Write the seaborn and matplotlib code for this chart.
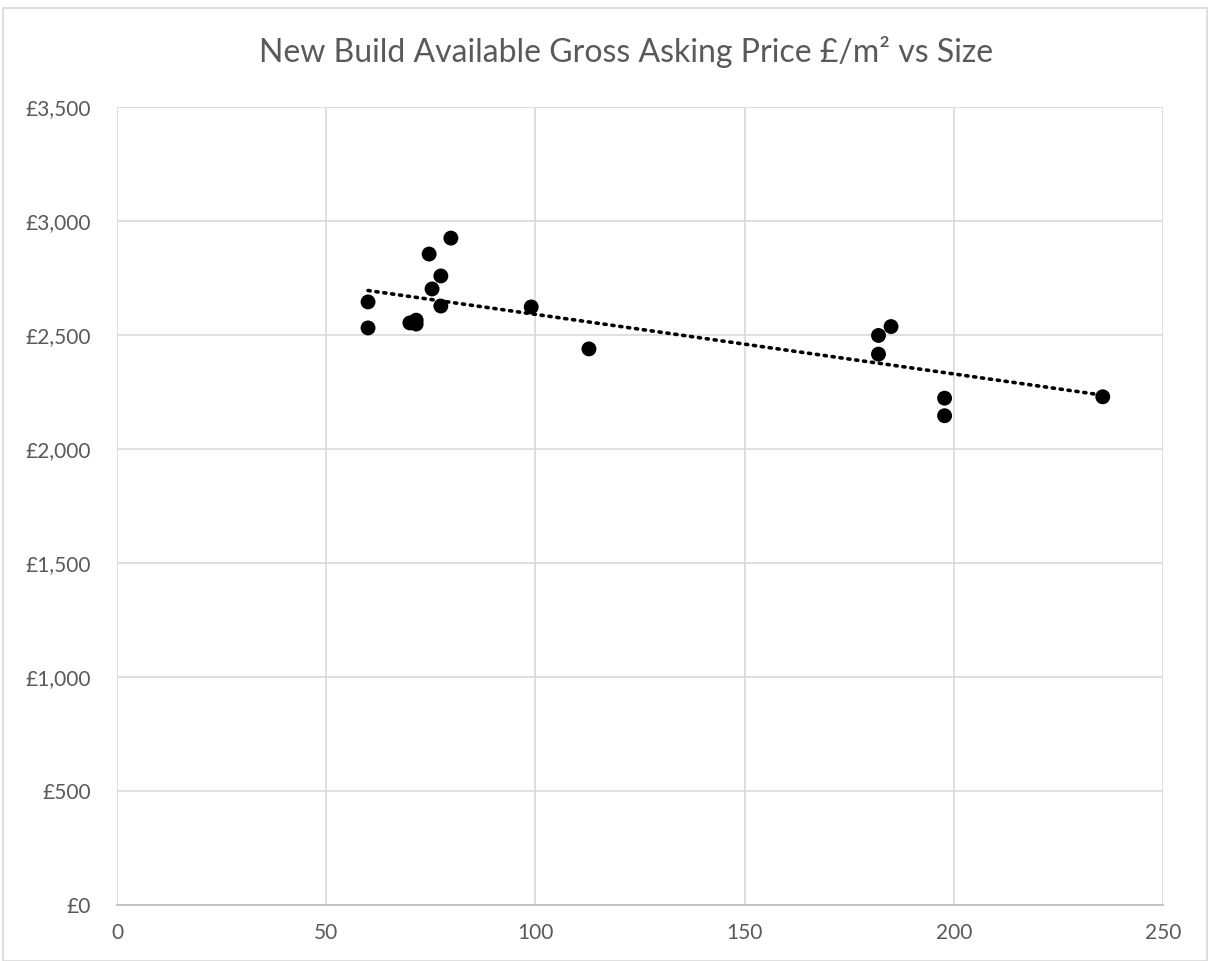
import matplotlib
matplotlib.use("Agg")
import matplotlib.pyplot as plt
import seaborn as sns
import numpy as np
import pandas as pd
from matplotlib.ticker import FuncFormatter, MultipleLocator
from matplotlib.patches import Rectangle

# Data
size_m2 = [60, 60, 70, 71.5, 71.5, 74.6, 75.3, 77.4, 77.4, 79.8, 99, 112.8,
           182, 182, 185, 197.8, 197.8, 235.6]
price_per_m2 = [2645, 2531, 2553, 2565, 2548, 2855, 2702, 2759, 2627, 2925, 2623, 2439,
                2498, 2416, 2537, 2223, 2146, 2229]

title = "New Build Available Gross Asking Price £/m² vs Size"

df = pd.DataFrame({"size": size_m2, "price": price_per_m2})

sns.set_style("white")
plt.rcParams['font.family'] = ['Lato', 'DejaVu Sans']

fig = plt.figure(figsize=(12.10, 9.61), dpi=100)
ax = fig.add_axes([117/1210, 1 - 905/961, (1163-117)/1210, (905-107)/961])

sns.regplot(data=df, x="size", y="price", ax=ax, ci=None,
            scatter_kws=dict(s=115, color="black", edgecolor="none", alpha=1, zorder=3),
            line_kws=dict(color="black", linestyle=(0, (0.6, 1.6)), linewidth=2.6,
                          dash_capstyle="round", zorder=4))

ax.set_xlim(0, 250)
ax.set_ylim(0, 3500)
ax.xaxis.set_major_locator(MultipleLocator(50))
ax.yaxis.set_major_locator(MultipleLocator(500))
ax.yaxis.set_major_formatter(FuncFormatter(lambda v, p: f"£{int(v):,}"))
ax.grid(True, color="#d9d9d9", linewidth=1.2)
ax.set_axisbelow(True)
for s in ["top", "right", "left"]:
    ax.spines[s].set_visible(False)
ax.spines["bottom"].set_color("#bfbfbf")
ax.spines["bottom"].set_linewidth(1.3)
ax.tick_params(axis="both", length=0, labelsize=15, colors="#595959")
ax.tick_params(axis="x", pad=13)
ax.tick_params(axis="y", pad=19)
ax.set_xlabel("")
ax.set_ylabel("")

fig.text(626/1210, 1 - 52/961, title, ha="center", va="center", fontsize=23, color="#595959")

fig.patches.append(Rectangle((3/1210, 0), 1204/1210, 1 - 8/961, transform=fig.transFigure,
                             fill=False, edgecolor="#d9d9d9", linewidth=1.2))

fig.savefig("out.png", dpi=100)
